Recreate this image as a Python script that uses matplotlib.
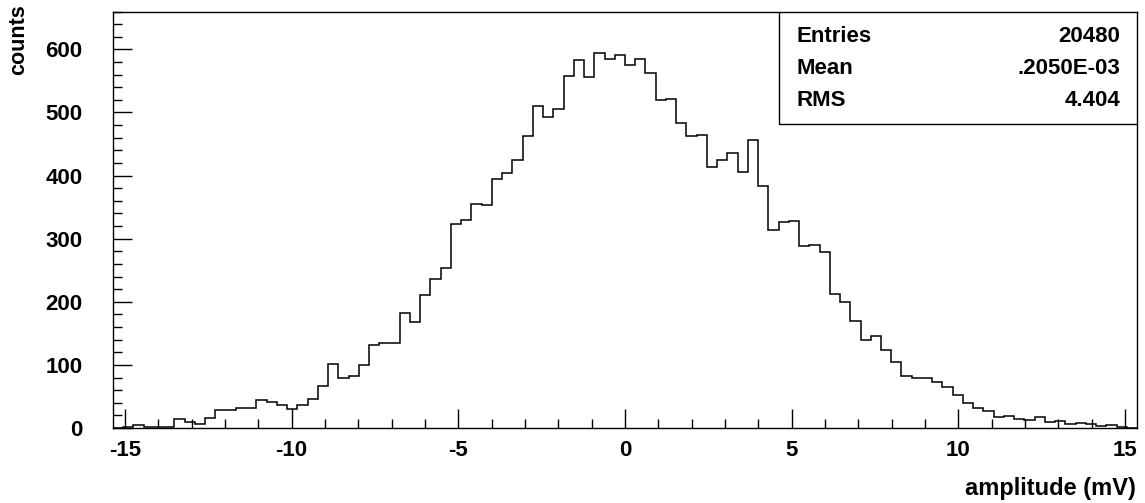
import matplotlib
matplotlib.use("Agg")
import matplotlib.pyplot as plt
import numpy as np
from matplotlib.ticker import MultipleLocator

plt.rcParams["font.family"] = ["Liberation Sans", "DejaVu Sans"]
plt.rcParams["font.weight"] = "bold"
plt.rcParams["axes.unicode_minus"] = False

# histogram: 100 bins over [-15.36, 15.36] mV
x_lo, x_hi, n_bins = -15.36, 15.36, 100
counts = [0, 1, 4, 2, 1, 1, 14, 10, 7, 16,
          28, 28, 31, 32, 44, 41, 36, 30, 37, 46,
          66, 101, 79, 83, 100, 132, 134, 134, 183, 168,
          210, 236, 253, 323, 329, 355, 354, 394, 404, 425,
          462, 511, 493, 506, 558, 583, 556, 595, 585, 591,
          575, 584, 562, 520, 522, 483, 462, 465, 414, 424,
          436, 405, 456, 384, 313, 326, 328, 288, 290, 279,
          212, 199, 169, 140, 146, 123, 104, 83, 80, 80,
          73, 65, 53, 39, 32, 27, 17, 19, 14, 13,
          17, 9, 11, 6, 8, 6, 3, 4, 2, 0]

stat_names = ["Entries", "Mean", "RMS"]
stat_values = ["20480", ".2050E-03", "4.404"]

edges = np.linspace(x_lo, x_hi, n_bins + 1)

fig = plt.figure(figsize=(11.45, 5.03), dpi=100)
ax = fig.add_axes([113 / 1145, 1 - 428 / 503, 1024 / 1145, 416.5 / 503])

ax.stairs(counts, edges, color="black", linewidth=1.1)

ax.set_xlim(x_lo, x_hi)
ax.set_ylim(0, 660)

ax.xaxis.set_major_locator(MultipleLocator(5))
ax.xaxis.set_minor_locator(MultipleLocator(1))
ax.yaxis.set_major_locator(MultipleLocator(100))
ax.yaxis.set_minor_locator(MultipleLocator(20))
ax.tick_params(which="both", direction="in", top=False, right=False,
               width=1.0, labelsize=16)
ax.tick_params(which="major", length=13.5)
ax.tick_params(which="minor", length=6.5)
ax.tick_params(axis="x", which="major", pad=9)
ax.tick_params(axis="y", which="major", pad=22)
for s in ax.spines.values():
    s.set_linewidth(1.0)
for lbl in ax.get_xticklabels() + ax.get_yticklabels():
    lbl.set_fontweight("bold")

fig.text(1136 / 1145, 1 - 489 / 503, "amplitude (mV)", ha="right", va="center",
         fontsize=17, fontweight="bold")
fig.text(19 / 1145, 1 - 4 / 503, "counts", rotation=90, ha="center", va="top",
         fontsize=15.5, fontweight="bold")

# stats box in upper right
bx0 = (779 - 113) / 1024
by0 = 1 - (124 - 11.5) / 416.5
ax.add_patch(plt.Rectangle((bx0, by0), 1 - bx0, 1 - by0, transform=ax.transAxes,
                           facecolor="white", edgecolor="black", linewidth=1.0,
                           zorder=5))
row_y = [37, 68.5, 100]
for name, val, y in zip(stat_names, stat_values, row_y):
    yf = 1 - (y - 11.5) / 416.5
    ax.text((797 - 113) / 1024, yf, name, transform=ax.transAxes, ha="left",
            va="center", fontsize=16, fontweight="bold", zorder=6)
    ax.text((1120 - 113) / 1024, yf, val, transform=ax.transAxes, ha="right",
            va="center", fontsize=16, fontweight="bold", zorder=6)

fig.savefig("out.png", dpi=100)
